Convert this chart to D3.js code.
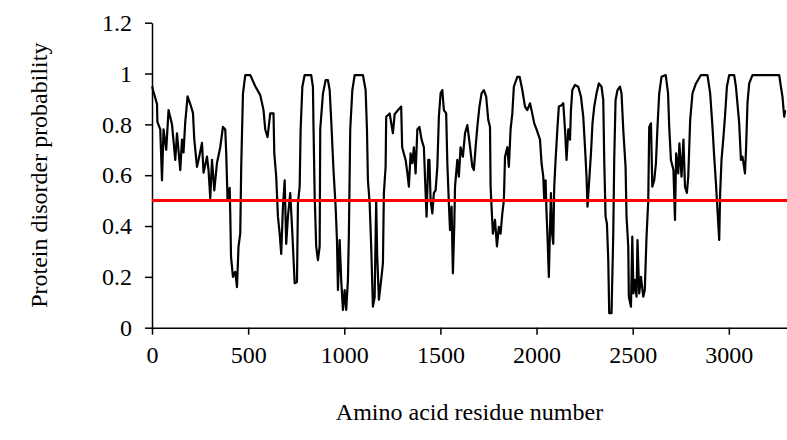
<!DOCTYPE html>
<html>
<head>
<meta charset="utf-8">
<script src="https://cdn.jsdelivr.net/npm/d3@7"></script>
<style>
  body { margin: 0; background: #fff; }
  svg { display: block; }
  .axis text { font-family: "Liberation Serif", "Times New Roman", serif; font-size: 24px; fill: #000; }
  .axis path, .axis line { stroke: #000; stroke-width: 1.5px; }
  .title { font-family: "Liberation Serif", "Times New Roman", serif; font-size: 24px; fill: #000; }
</style>
</head>
<body>
<div id="chart"></div>
<script>
const width = 787;
const height = 440;

// residue number, disorder probability
const trace = [
  [1, 0.95], [5, 0.935], [26, 0.88], [28, 0.81], [43, 0.78], [52, 0.58], [60, 0.78], [74, 0.70],
  [86, 0.856], [104, 0.80], [121, 0.66], [130, 0.765], [147, 0.62], [156, 0.74], [164, 0.69],
  [173, 0.81], [185, 0.91], [199, 0.88], [213, 0.845], [220, 0.74], [234, 0.633], [242, 0.66],
  [260, 0.727], [268, 0.61], [286, 0.673], [294, 0.62], [303, 0.51], [312, 0.66], [324, 0.54],
  [338, 0.648], [355, 0.71], [369, 0.79], [381, 0.78], [386, 0.687], [393, 0.50], [404, 0.55],
  [407, 0.45], [411, 0.28], [421, 0.20], [433, 0.22], [442, 0.16], [450, 0.32], [459, 0.37],
  [464, 0.633], [473, 0.92], [485, 0.994], [511, 0.994], [537, 0.95], [563, 0.915], [580, 0.856],
  [589, 0.78], [601, 0.75], [615, 0.843], [632, 0.843], [636, 0.687], [646, 0.594], [655, 0.437],
  [664, 0.37], [672, 0.29], [681, 0.476], [690, 0.58], [698, 0.33], [707, 0.437], [719, 0.53],
  [730, 0.37], [742, 0.175], [754, 0.18], [759, 0.49], [768, 0.555], [773, 0.78], [782, 0.948],
  [794, 0.994], [828, 0.994], [837, 0.948], [840, 0.79], [846, 0.52], [854, 0.32], [863, 0.266],
  [872, 0.32], [875, 0.78], [889, 0.92], [903, 0.974], [915, 0.974], [924, 0.935], [932, 0.817],
  [944, 0.62], [955, 0.476], [962, 0.345], [967, 0.148], [976, 0.345], [984, 0.188], [993, 0.07],
  [1002, 0.148], [1010, 0.07], [1019, 0.188], [1024, 0.37], [1031, 0.78], [1042, 0.935],
  [1054, 0.994], [1097, 0.994], [1111, 0.935], [1118, 0.78], [1123, 0.58], [1132, 0.49],
  [1140, 0.32], [1149, 0.083], [1158, 0.12], [1166, 0.50], [1171, 0.29], [1180, 0.11],
  [1192, 0.188], [1201, 0.253], [1206, 0.53], [1215, 0.633], [1218, 0.83], [1236, 0.843],
  [1253, 0.765], [1262, 0.84], [1279, 0.856], [1296, 0.87], [1301, 0.71], [1319, 0.66],
  [1328, 0.61], [1336, 0.555], [1345, 0.686], [1354, 0.647], [1362, 0.71], [1371, 0.607],
  [1380, 0.78], [1391, 0.79], [1402, 0.74], [1414, 0.71], [1423, 0.53], [1428, 0.437],
  [1437, 0.66], [1443, 0.66], [1449, 0.50], [1458, 0.45], [1466, 0.53], [1475, 0.54],
  [1484, 0.633], [1492, 0.83], [1501, 0.922], [1510, 0.935], [1518, 0.856], [1530, 0.843],
  [1536, 0.647], [1544, 0.49], [1550, 0.384], [1558, 0.476], [1562, 0.32], [1565, 0.214],
  [1572, 0.397], [1576, 0.555], [1588, 0.66], [1596, 0.594], [1605, 0.71], [1617, 0.673],
  [1628, 0.765], [1640, 0.797], [1652, 0.725], [1666, 0.633], [1674, 0.62], [1683, 0.71],
  [1692, 0.79], [1703, 0.87], [1714, 0.922], [1726, 0.935], [1738, 0.909], [1749, 0.817],
  [1758, 0.79], [1761, 0.555], [1766, 0.476], [1773, 0.37], [1784, 0.424], [1794, 0.32],
  [1804, 0.397], [1813, 0.37], [1822, 0.45], [1830, 0.50], [1836, 0.673], [1848, 0.71],
  [1856, 0.633], [1865, 0.78], [1874, 0.843], [1882, 0.948], [1900, 0.987], [1912, 0.987],
  [1926, 0.935], [1940, 0.87], [1952, 0.856], [1966, 0.883], [1974, 0.856], [1988, 0.804],
  [2000, 0.78], [2018, 0.74], [2026, 0.647], [2035, 0.594], [2040, 0.50], [2047, 0.58],
  [2052, 0.45], [2057, 0.358], [2064, 0.20], [2070, 0.39], [2075, 0.53], [2081, 0.37],
  [2087, 0.33], [2092, 0.555], [2099, 0.66], [2109, 0.79], [2116, 0.87], [2130, 0.875],
  [2139, 0.883], [2148, 0.78], [2156, 0.66], [2165, 0.78], [2174, 0.74], [2179, 0.856],
  [2186, 0.935], [2200, 0.955], [2217, 0.948], [2231, 0.909], [2243, 0.83], [2252, 0.71],
  [2260, 0.594], [2265, 0.476], [2274, 0.58], [2283, 0.686], [2291, 0.804], [2300, 0.87],
  [2312, 0.922], [2324, 0.961], [2338, 0.948], [2347, 0.896], [2352, 0.66], [2359, 0.437],
  [2366, 0.41], [2373, 0.266], [2378, 0.057], [2390, 0.057], [2399, 0.37], [2404, 0.66],
  [2411, 0.896], [2421, 0.935], [2434, 0.948], [2442, 0.922], [2451, 0.78], [2463, 0.633],
  [2468, 0.437], [2477, 0.32], [2480, 0.122], [2491, 0.083], [2498, 0.358], [2504, 0.135],
  [2511, 0.188], [2520, 0.122], [2525, 0.345], [2534, 0.135], [2543, 0.20], [2555, 0.122],
  [2563, 0.148], [2572, 0.358], [2581, 0.50], [2586, 0.79], [2595, 0.804], [2602, 0.555],
  [2612, 0.58], [2621, 0.647], [2629, 0.79], [2638, 0.922], [2650, 0.987], [2672, 0.994],
  [2684, 0.922], [2690, 0.79], [2699, 0.66], [2712, 0.62], [2720, 0.424], [2726, 0.686],
  [2737, 0.607], [2743, 0.725], [2754, 0.594], [2764, 0.74], [2772, 0.555], [2782, 0.53],
  [2789, 0.594], [2799, 0.817], [2811, 0.922], [2829, 0.961], [2855, 0.994], [2889, 0.994],
  [2903, 0.922], [2915, 0.79], [2924, 0.673], [2933, 0.568], [2941, 0.463], [2950, 0.345],
  [2955, 0.53], [2962, 0.66], [2972, 0.75], [2980, 0.83], [2990, 0.948], [3002, 0.994],
  [3028, 0.994], [3037, 0.948], [3054, 0.804], [3063, 0.66], [3071, 0.673], [3084, 0.607],
  [3090, 0.71], [3097, 0.883], [3106, 0.961], [3123, 0.994], [3262, 0.994], [3271, 0.948],
  [3279, 0.909], [3288, 0.83], [3293, 0.856]
];

const threshold = 0.5;
const xTicks = [0, 500, 1000, 1500, 2000, 2500, 3000];
const yTicks = [0, 0.2, 0.4, 0.6, 0.8, 1, 1.2];

const xScale = d3.scaleLinear()
  .domain([0, 3300])
  .range([152, 786.5]);

const yScale = d3.scaleLinear()
  .domain([0, 1.2])
  .range([327.7, 22.7]);

const svg = d3.select('#chart').append('svg')
  .attr('width', width)
  .attr('height', height);

const xAxis = d3.axisBottom(xScale)
  .tickValues(xTicks)
  .tickSize(7)
  .tickSizeOuter(0)
  .tickPadding(11)
  .tickFormat(d3.format('d'));

const yAxis = d3.axisLeft(yScale)
  .tickValues(yTicks)
  .tickSize(7)
  .tickSizeOuter(0)
  .tickPadding(13)
  .tickFormat(d => String(+d.toFixed(1)));

svg.append('g')
  .attr('class', 'axis')
  .attr('transform', `translate(0, ${yScale(0)})`)
  .call(xAxis);

svg.append('g')
  .attr('class', 'axis')
  .attr('transform', `translate(${xScale(0)}, 0)`)
  .call(yAxis);

const line = d3.line()
  .x(d => xScale(d[0]))
  .y(d => yScale(d[1]));

svg.append('path')
  .attr('d', line(trace))
  .attr('fill', 'none')
  .attr('stroke', '#000')
  .attr('stroke-width', 2.2)
  .attr('stroke-linejoin', 'round');

// disorder cut-off
svg.append('line')
  .attr('x1', xScale(0))
  .attr('x2', width)
  .attr('y1', yScale(threshold))
  .attr('y2', yScale(threshold))
  .attr('stroke', '#ff0000')
  .attr('stroke-width', 3);

svg.append('text')
  .attr('class', 'title')
  .attr('x', (xScale(0) + width) / 2)
  .attr('y', 420)
  .attr('text-anchor', 'middle')
  .text('Amino acid residue number');

svg.append('text')
  .attr('class', 'title')
  .attr('transform', `translate(47, ${(yScale(0) + yScale(1.2)) / 2}) rotate(-90)`)
  .attr('text-anchor', 'middle')
  .text('Protein disorder probability');
</script>
</body>
</html>
